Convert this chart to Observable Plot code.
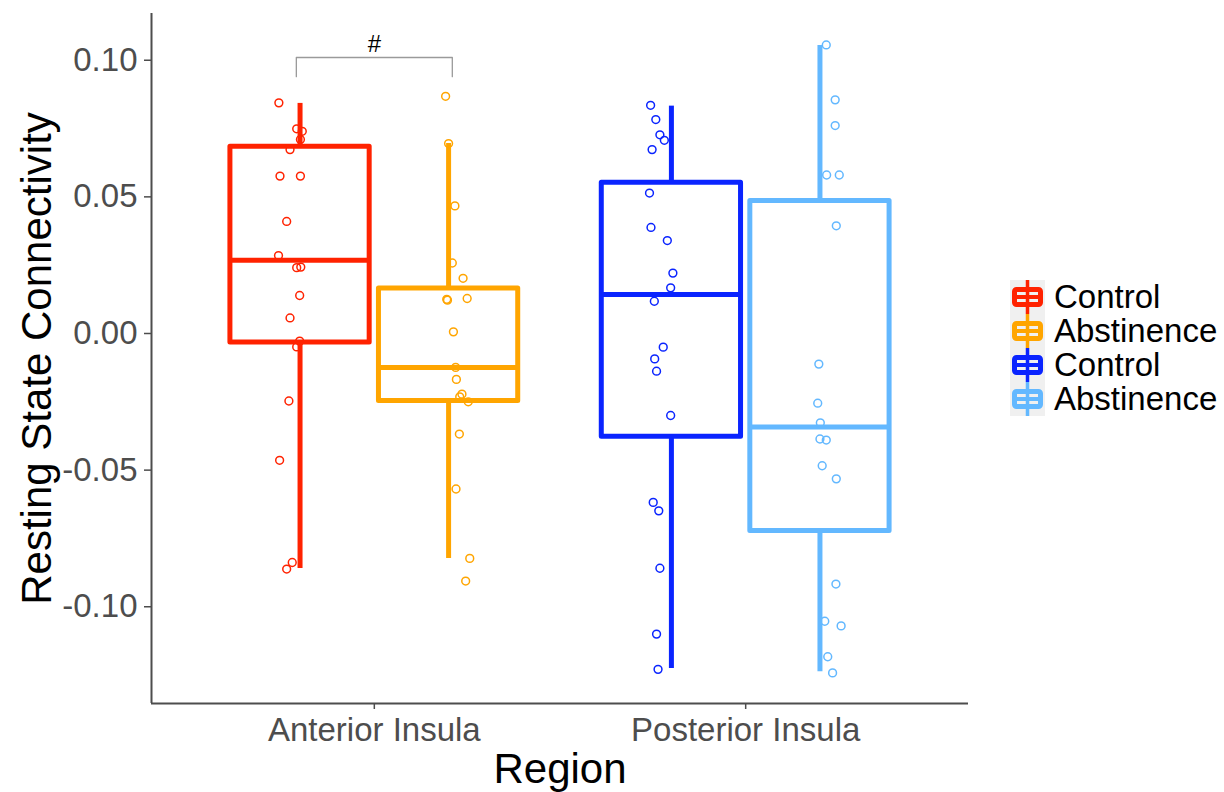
<!DOCTYPE html>
<html><head><meta charset="utf-8">
<script src="https://cdn.jsdelivr.net/npm/d3@7"></script>
<script src="https://cdn.jsdelivr.net/npm/@observablehq/plot@0.6"></script>
<style>
body{margin:0;background:#fff;font-family:"Liberation Sans",Arial,Helvetica,sans-serif;}
#wrap{position:relative;width:1224px;height:792px;overflow:hidden;}
#chart{position:absolute;left:0;top:0;}
#legend{position:absolute;left:1010px;top:280px;}
.row{display:flex;align-items:center;height:34px;}
.row svg{display:block;}
.row span{margin-left:9px;font-size:33px;color:#000;line-height:34px;}
</style></head>
<body><div id="wrap"><div id="chart"></div><div id="legend"></div></div>
<script>
// ---- data ----
const regions = ["Anterior Insula", "Posterior Insula"];
const groupLabels = ["Control", "Abstinence", "Control", "Abstinence"];
const groupRegion = [0, 0, 1, 1];
const groupSide = [-1, 1, -1, 1];
const groupColors = ["#FF2200", "#FFA500", "#0A24FF", "#63B8FF"];

const boxLower = [-0.0860, -0.0823, -0.1226, -0.1238];   // whisker ends
const boxQ1 = [-0.0033, -0.0247, -0.0378, -0.0723];
const boxMedian = [0.0268, -0.0124, 0.0143, -0.0342];
const boxQ3 = [0.0683, 0.0165, 0.0552, 0.0485];
const boxUpper = [0.0842, 0.0695, 0.0832, 0.1054];

const controlAnteriorValues = [0.0844, 0.0749, 0.0740, 0.0710, 0.0673, 0.0576, 0.0576, 0.0410, 0.0285, 0.0241, 0.0243, 0.0139, 0.0057, -0.0028, -0.0049, -0.0247, -0.0464, -0.0838, -0.0862];
const controlAnteriorJitter = [-0.057, -0.009, 0.006, 0.001, -0.027, -0.054, 0.001, -0.036, -0.058, -0.009, 0.002, -0.001, -0.027, -0.001, -0.009, -0.030, -0.055, -0.021, -0.036];
const abstinenceAnteriorValues = [0.0868, 0.0695, 0.0467, 0.0258, 0.0202, 0.0125, 0.0122, 0.0128, 0.0006, -0.0124, -0.0168, -0.0222, -0.0232, -0.0250, -0.0368, -0.0569, -0.0823, -0.0906];
const abstinenceAnteriorJitter = [-0.008, 0, 0.017, 0.010, 0.039, -0.005, -0.003, 0.050, 0.013, 0.019, 0.021, 0.036, 0.030, 0.053, 0.029, 0.020, 0.057, 0.046];
const controlPosteriorValues = [0.0835, 0.0783, 0.0727, 0.0707, 0.0673, 0.0514, 0.0388, 0.0340, 0.0221, 0.0167, 0.0118, -0.0050, -0.0093, -0.0138, -0.0300, -0.0618, -0.0649, -0.0859, -0.1100, -0.1229];
const controlPosteriorJitter = [-0.056, -0.042, -0.031, -0.019, -0.052, -0.059, -0.055, -0.011, 0.004, -0.002, -0.046, -0.022, -0.045, -0.040, -0.002, -0.049, -0.034, -0.031, -0.040, -0.036];
const abstinencePosteriorValues = [0.1056, 0.0855, 0.0761, 0.0580, 0.0580, 0.0394, -0.0112, -0.0255, -0.0327, -0.0386, -0.0390, -0.0484, -0.0532, -0.0917, -0.1053, -0.1070, -0.1183, -0.1242];
const abstinencePosteriorJitter = [0.017, 0.041, 0.041, 0.018, 0.052, 0.044, -0.003, -0.006, 0.001, 0, 0.017, 0.006, 0.044, 0.043, 0.013, 0.057, 0.021, 0.034];

const yTicks = [-0.10, -0.05, 0.00, 0.05, 0.10];
const bracketX = [0.79, 1.21];
const bracketY = [0.094, 0.101];
const bracketLabel = "#";
const xTitle = "Region";
const yTitle = "Resting State Connectivity";

// ---- build tables ----
const seriesValues = [controlAnteriorValues, abstinenceAnteriorValues, controlPosteriorValues, abstinencePosteriorValues];
const seriesJitter = [controlAnteriorJitter, abstinenceAnteriorJitter, controlPosteriorJitter, abstinencePosteriorJitter];
const dodge = 0.2, halfWidth = 0.1875;
const centers = groupRegion.map((r, i) => (r + 1) + groupSide[i] * dodge);
const boxes = centers.map((c, i) => ({cx: c, x1: c - halfWidth, x2: c + halfWidth, lo: boxLower[i], q1: boxQ1[i], med: boxMedian[i], q3: boxQ3[i], hi: boxUpper[i]}));
const points = seriesValues.map((vals, i) => vals.map((v, j) => ({x: centers[i] + seriesJitter[i][j], y: v})));
const bracket = [
  {x: bracketX[0], y: bracketY[0]}, {x: bracketX[0], y: bracketY[1]},
  {x: bracketX[1], y: bracketY[1]}, {x: bracketX[1], y: bracketY[0]}
];

const xDomain = [0.4, 2.6];
const yDomain = [-0.1354, 0.1171];

const marks = [
  Plot.axisY({ticks: yTicks, tickFormat: d => d.toFixed(2), tickSize: 7, tickPadding: 7, fontSize: 33, label: null, strokeWidth: 1.5}),
  Plot.axisX({ticks: [1, 2], tickFormat: d => regions[d - 1], tickSize: 6, tickPadding: 8, fontSize: 33, label: null, strokeWidth: 1.5}),
  Plot.ruleX([xDomain[0]], {stroke: "#4D4D4D", strokeWidth: 2}),
  Plot.ruleY([yDomain[0]], {stroke: "#4D4D4D", strokeWidth: 2}),
];
groupColors.forEach((col, i) => {
  marks.push(Plot.dot(points[i], {x: "x", y: "y", r: 3.9, stroke: col, fill: "none", strokeWidth: 1.5}));
});
groupColors.forEach((col, i) => {
  const b = [boxes[i]];
  marks.push(Plot.ruleX(b, {x: "cx", y1: "lo", y2: "q1", stroke: col, strokeWidth: 5}));
  marks.push(Plot.ruleX(b, {x: "cx", y1: "q3", y2: "hi", stroke: col, strokeWidth: 5}));
  marks.push(Plot.rect(b, {x1: "x1", x2: "x2", y1: "q1", y2: "q3", stroke: col, fill: "none", strokeWidth: 5, strokeLinejoin: "round"}));
  marks.push(Plot.ruleY(b, {y: "med", x1: "x1", x2: "x2", stroke: col, strokeWidth: 5}));
});
marks.push(Plot.line(bracket, {x: "x", y: "y", stroke: "#9A9A9A", strokeWidth: 1.3}));
marks.push(Plot.text([bracketLabel], {x: (bracketX[0] + bracketX[1]) / 2, y: bracketY[1], dy: -5, lineAnchor: "bottom", fontSize: 24, fill: "#000"}));
marks.push(Plot.text([xTitle], {frameAnchor: "bottom", dy: 79, lineAnchor: "bottom", textAnchor: "middle", fontSize: 42, fill: "#000"}));
marks.push(Plot.text([yTitle], {frameAnchor: "left", dx: -114, rotate: -90, textAnchor: "middle", lineAnchor: "middle", fontSize: 42, fill: "#000"}));

const chart = Plot.plot({
  width: 1224, height: 792,
  marginLeft: 151, marginRight: 256, marginTop: 13, marginBottom: 89,
  x: {domain: xDomain, label: null},
  y: {domain: yDomain, label: null},
  style: {fontFamily: "'Liberation Sans', Arial, Helvetica, sans-serif", color: "#4D4D4D", background: "#fff"},
  marks
});
document.getElementById("chart").appendChild(chart);

// ---- legend ----
const legend = document.getElementById("legend");
groupLabels.forEach((lab, i) => {
  const col = groupColors[i];
  const row = document.createElement("div");
  row.className = "row";
  row.innerHTML = `<svg width="35" height="34">
    <rect x="0" y="0" width="35" height="34" fill="#F0F0F0"/>
    <line x1="17.5" x2="17.5" y1="0" y2="34" stroke="${col}" stroke-width="3.5"/>
    <rect x="4.5" y="9.5" width="26" height="15" rx="2" fill="none" stroke="${col}" stroke-width="5"/>
    <line x1="4.5" x2="30.5" y1="17" y2="17" stroke="${col}" stroke-width="4"/>
  </svg><span>${lab}</span>`;
  legend.appendChild(row);
});
</script>
</body></html>
